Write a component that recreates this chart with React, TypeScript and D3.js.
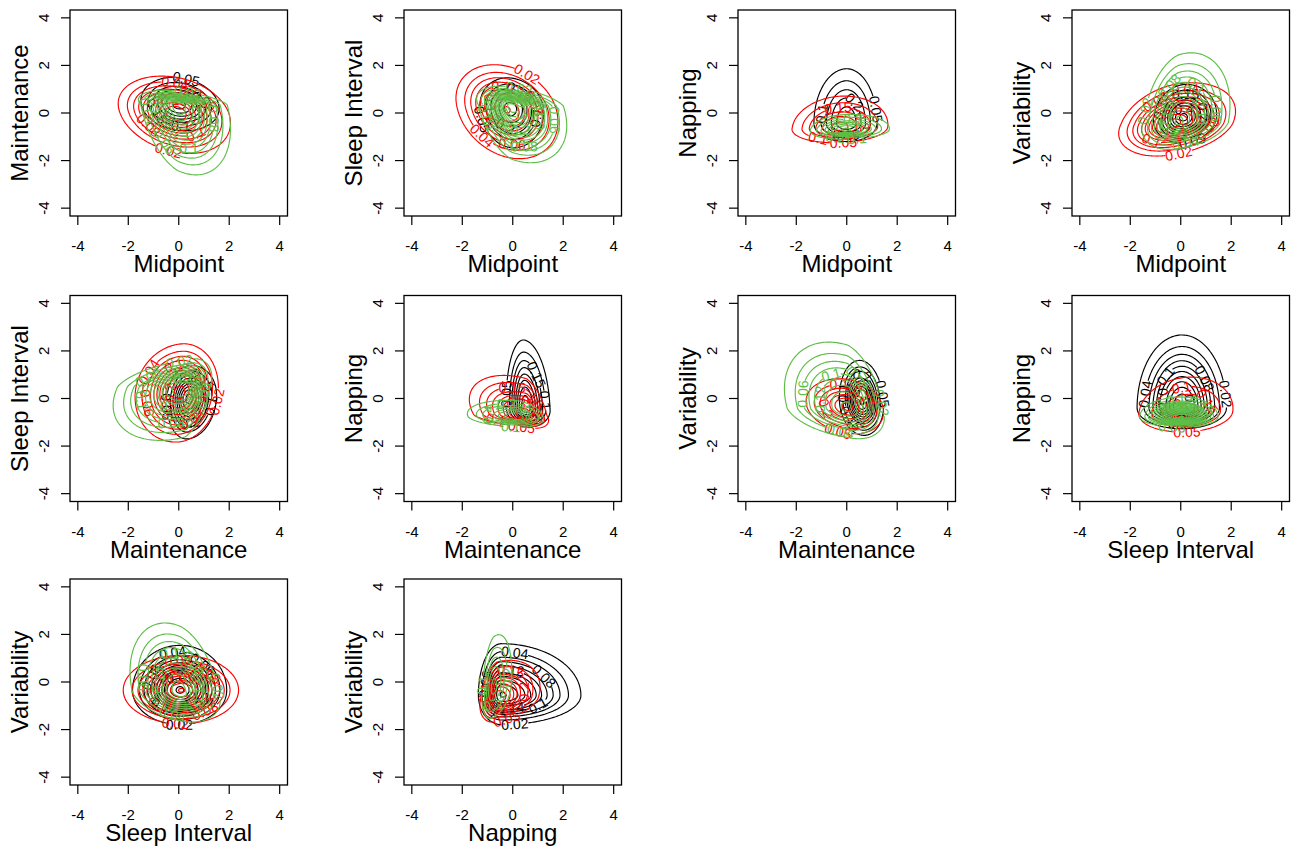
import React, { useMemo } from 'react';
import * as d3 from 'd3';

const variables = ['Midpoint', 'Maintenance', 'Sleep Interval', 'Napping', 'Variability'];
// x variable, y variable for each panel (row by row)
const panelPairs = [[0, 1], [0, 2], [0, 3], [0, 4], [1, 2], [1, 3], [1, 4], [2, 3], [2, 4], [3, 4]];
const tickValues = [-4, -2, 0, 2, 4];

// one row per panel: mode x, mode y, outer contour left, right, bottom, top, correlation, contour step
const blackFits = [
  [0.0, 0.35, -1.5, 1.6, -0.75, 1.5, -0.15, 0.05],
  [-0.1, 0.2, -1.3, 1.22, -1.46, 1.48, -0.1, 0.05],
  [0.0, -0.45, -1.3, 1.2, -1.2, 1.86, 0.0, 0.05],
  [0.1, -0.2, -1.08, 1.42, -1.25, 1.2, 0.1, 0.05],
  [0.4, 0.0, -0.48, 1.5, -1.7, 1.39, 0.1, 0.05],
  [0.5, -0.43, -0.26, 1.48, -1.2, 2.46, -0.1, 0.05],
  [0.6, -0.15, -0.29, 1.46, -1.55, 1.6, -0.1, 0.05],
  [0.05, -0.4, -1.73, 1.81, -1.27, 2.67, 0.0, 0.02],
  [0.05, -0.35, -1.83, 1.9, -1.79, 1.54, 0.0, 0.02],
  [-0.45, -0.56, -1.36, 2.7, -1.79, 1.61, 0.0, 0.02],
];
const redFits = [
  [-0.1, 0.0, -2.4, 2.05, -1.7, 1.55, -0.25, 0.02],
  [-0.24, 0.15, -2.25, 1.79, -1.92, 2.03, -0.25, 0.02],
  [-0.29, -0.62, -2.17, 1.63, -1.25, 0.71, 0.1, 0.05],
  [-0.3, -0.45, -2.46, 2.17, -1.81, 1.27, 0.3, 0.02],
  [0.05, 0.27, -1.73, 1.57, -1.83, 2.3, 0.1, 0.02],
  [0.55, -0.71, -1.72, 1.42, -1.25, 0.97, -0.4, 0.05],
  [0.05, -0.35, -1.61, 1.46, -1.48, 0.83, -0.2, 0.05],
  [0.24, -0.57, -1.66, 2.07, -1.41, 0.9, 0.1, 0.05],
  [0.12, -0.35, -2.2, 2.37, -1.75, 1.12, 0.0, 0.02],
  [-0.63, -0.7, -1.3, 1.08, -1.68, 0.91, 0.3, 0.05],
];
const greenFits = [
  [-0.05, 0.35, -1.6, 2.05, -2.6, 0.95, -0.35, 0.02],
  [-0.05, 0.3, -1.43, 2.14, -2.09, 1.13, -0.35, 0.02],
  [-0.05, -0.72, -1.45, 1.69, -1.1, -0.06, 0.1, 0.1],
  [-0.1, -0.4, -1.54, 1.95, -1.53, 2.53, 0.25, 0.02],
  [0.25, 0.5, -2.6, 1.31, -1.76, 1.67, 0.35, 0.02],
  [0.15, -0.78, -1.8, 1.22, -1.2, -0.08, -0.2, 0.1],
  [0.04, -0.43, -2.47, 1.49, -1.69, 2.37, -0.3, 0.02],
  [0.04, -0.78, -1.63, 1.48, -1.2, 0.06, 0.0, 0.05],
  [0.05, -0.42, -1.93, 1.64, -1.68, 2.48, -0.3, 0.02],
  [-0.77, -0.28, -1.23, -0.04, -1.54, 1.99, 0.3, 0.1],
];

const groups = [
  { fits: blackFits, color: '#000000' },
  { fits: redFits, color: '#FF0000' },
  { fits: greenFits, color: '#5DBE46' },
];

const WIDTH = 1291;
const HEIGHT = 847;
const colLeft = [70, 404, 738, 1072];
const rowTop = [10, 295.5, 579];
const BOX_W = 217.5;
const BOX_H = 206;
const X_LIM = 4.31;
const Y_LIM = 4.33;
const GRID = 160;
const FONT = '"Liberation Sans", Arial, Helvetica, sans-serif';
const LABEL_SIZE = 14;

// radius (in sd units) of the lowest contour so that it meets the outer box
function outerRadius(fit) {
  const [, , lo, hi, bo, to, rho, step] = fit;
  const K = 4 / (2 * Math.PI * (hi - lo) * (to - bo) * Math.sqrt(1 - rho * rho) * step);
  let q = 8;
  for (let k = 0; k < 80; k++) q = 2 * Math.log(Math.max(K * q, 1.01));
  return Math.sqrt(q);
}

function densityGrid(fit) {
  const [mx, my, lo, hi, bo, to, rho, step] = fit;
  const rad = outerRadius(fit);
  const c2 = 1 - rho * rho;
  const peak = (4 * rad * rad) / (2 * Math.PI * (hi - lo) * (to - bo) * Math.sqrt(c2));
  const sxL = (mx - lo) / rad;
  const sxR = (hi - mx) / rad;
  const syB = (my - bo) / rad;
  const syT = (to - my) / rad;
  const values = new Array(GRID * GRID);
  for (let j = 0; j < GRID; j++) {
    const y = Y_LIM - ((j + 0.5) * 2 * Y_LIM) / GRID;
    for (let i = 0; i < GRID; i++) {
      const x = -X_LIM + ((i + 0.5) * 2 * X_LIM) / GRID;
      const u = (x - mx) / (x < mx ? sxL : sxR);
      const v = (y - my) / (y < my ? syB : syT);
      const q = (u * u - 2 * rho * u * v + v * v) / c2;
      values[j * GRID + i] = peak * Math.exp(-q / 2);
    }
  }
  const levels = d3.range(1, Math.floor(peak / step + 1e-9) + 1).map((k) => +(k * step).toFixed(6));
  return { values, levels };
}

function textWidth(s) {
  let w = 0;
  for (const ch of s) w += ch === '.' ? 0.278 : 0.556;
  return w * LABEL_SIZE;
}

function angleDiff(a, b) {
  let d = b - a;
  while (d > Math.PI) d -= 2 * Math.PI;
  while (d < -Math.PI) d += 2 * Math.PI;
  return Math.abs(d);
}

function layoutRing(pts, label, box, placed) {
  if (pts.length > 1) {
    const a = pts[0];
    const b = pts[pts.length - 1];
    if (a[0] === b[0] && a[1] === b[1]) pts = pts.slice(0, -1);
  }
  const n = pts.length;
  const cum = [0];
  for (let k = 1; k <= n; k++) {
    const p = pts[k - 1];
    const q = pts[k % n];
    cum.push(cum[k - 1] + Math.hypot(q[0] - p[0], q[1] - p[1]));
  }
  const P = cum[n];
  const closed = 'M' + pts.map((p) => p[0].toFixed(2) + ',' + p[1].toFixed(2)).join('L') + 'Z';
  const w = textWidth(label);
  if (n < 6 || P < 2 * w) return { d: closed, label: null };

  const pointAt = (a) => {
    a = ((a % P) + P) % P;
    const k = Math.min(d3.bisectRight(cum, a) - 1, n - 1);
    const seg = cum[k + 1] - cum[k] || 1;
    const t = (a - cum[k]) / seg;
    const p = pts[k];
    const q = pts[(k + 1) % n];
    return [p[0] + (q[0] - p[0]) * t, p[1] + (q[1] - p[1]) * t];
  };

  const h = LABEL_SIZE * 0.5;
  const candidates = [];
  for (let k = 0; k < n; k++) {
    const c = cum[k];
    const s = [0, 1, 2, 3, 4].map((m) => pointAt(c - w / 2 + (w * m) / 4));
    const heads = [];
    for (let m = 0; m < 4; m++) heads.push(Math.atan2(s[m + 1][1] - s[m][1], s[m + 1][0] - s[m][0]));
    let turn = 0;
    for (let m = 0; m < 3; m++) turn += angleDiff(heads[m], heads[m + 1]);
    let ang = Math.atan2(s[4][1] - s[0][1], s[4][0] - s[0][0]);
    if (ang > Math.PI / 2) ang -= Math.PI;
    if (ang < -Math.PI / 2) ang += Math.PI;
    const mid = pointAt(c);
    const ca = Math.cos(ang);
    const sa = Math.sin(ang);
    const corners = [[-1, -1], [1, -1], [1, 1], [-1, 1]].map(([a, b]) => [
      mid[0] + (a * w) / 2 * ca - b * h * sa,
      mid[1] + (a * w) / 2 * sa + b * h * ca,
    ]);
    const inside = corners.every(
      (p) => p[0] > box.x0 && p[0] < box.x1 && p[1] > box.y0 && p[1] < box.y1
    );
    if (!inside) continue;
    const bb = {
      x0: d3.min(corners, (p) => p[0]),
      x1: d3.max(corners, (p) => p[0]),
      y0: d3.min(corners, (p) => p[1]),
      y1: d3.max(corners, (p) => p[1]),
    };
    candidates.push({ c, turn, ang, mid, bb });
  }
  candidates.sort((a, b) => a.turn - b.turn);
  const hit = (bb) => placed.some((o) => bb.x0 < o.x1 && bb.x1 > o.x0 && bb.y0 < o.y1 && bb.y1 > o.y0);
  const pick = candidates.find((cd) => !hit(cd.bb));
  if (!pick) return { d: closed, label: null };
  placed.push(pick.bb);

  const s = pick.c - w / 2;
  const e = pick.c + w / 2;
  const inner = [];
  for (let m = -1; m <= 2; m++) {
    for (let k = 0; k < n; k++) {
      const a = cum[k] + m * P;
      if (a > e && a < s + P) inner.push([a, pts[k]]);
    }
  }
  inner.sort((a, b) => a[0] - b[0]);
  const line = [pointAt(e), ...inner.map((v) => v[1]), pointAt(s + P)];
  const d = 'M' + line.map((p) => p[0].toFixed(2) + ',' + p[1].toFixed(2)).join('L');
  return {
    d,
    label: { x: pick.mid[0], y: pick.mid[1], angle: (pick.ang * 180) / Math.PI, text: label },
  };
}

function buildPanel(pair, p) {
  const row = Math.floor(p / 4);
  const col = p % 4;
  const left = colLeft[col];
  const top = rowTop[row];
  const x = d3.scaleLinear().domain([-X_LIM, X_LIM]).range([left, left + BOX_W]);
  const y = d3.scaleLinear().domain([-Y_LIM, Y_LIM]).range([top + BOX_H, top]);
  const gx = (c) => x(-X_LIM + (c * 2 * X_LIM) / GRID);
  const gy = (c) => y(Y_LIM - (c * 2 * Y_LIM) / GRID);
  const box = { x0: left, x1: left + BOX_W, y0: top, y1: top + BOX_H };

  const layers = groups.map((g) => {
    const { values, levels } = densityGrid(g.fits[p]);
    const contours = d3.contours().size([GRID, GRID]).thresholds(levels)(values);
    const placed = [];
    const paths = [];
    const labels = [];
    contours.forEach((ct) => {
      const text = String(+ct.value.toFixed(4));
      ct.coordinates.forEach((poly) => {
        poly.forEach((ring) => {
          const pts = ring.map(([cx, cy]) => [gx(cx), gy(cy)]);
          const res = layoutRing(pts, text, box, placed);
          paths.push(res.d);
          if (res.label) labels.push(res.label);
        });
      });
    });
    return { color: g.color, paths, labels };
  });

  return { p, pair, left, top, x, y, layers };
}

export default function App() {
  const panels = useMemo(() => panelPairs.map((pair, p) => buildPanel(pair, p)), []);

  return (
    <svg
      width={WIDTH}
      height={HEIGHT}
      style={{ position: 'absolute', left: 0, top: 0, background: '#ffffff' }}
      fontFamily={FONT}
    >
      <rect width={WIDTH} height={HEIGHT} fill="#ffffff" />
      <defs>
        {panels.map((pn) => (
          <clipPath id={'clip' + pn.p} key={pn.p}>
            <rect x={pn.left} y={pn.top} width={BOX_W} height={BOX_H} />
          </clipPath>
        ))}
      </defs>
      {panels.map((pn) => {
        const bottom = pn.top + BOX_H;
        const cx = pn.left + BOX_W / 2;
        const cy = pn.top + BOX_H / 2;
        return (
          <g key={pn.p}>
            <g clipPath={`url(#clip${pn.p})`}>
              {pn.layers.map((ly, li) => (
                <g key={li}>
                  <g fill="none" stroke={ly.color} strokeWidth={1.15} strokeLinejoin="round">
                    {ly.paths.map((d, i) => (
                      <path key={i} d={d} />
                    ))}
                  </g>
                  <g fill={ly.color} fontSize={LABEL_SIZE} textAnchor="middle" dominantBaseline="central">
                    {ly.labels.map((lb, i) => (
                      <text
                        key={i}
                        x={lb.x}
                        y={lb.y}
                        transform={`rotate(${lb.angle.toFixed(2)},${lb.x.toFixed(2)},${lb.y.toFixed(2)})`}
                      >
                        {lb.text}
                      </text>
                    ))}
                  </g>
                </g>
              ))}
            </g>
            <rect
              x={pn.left}
              y={pn.top}
              width={BOX_W}
              height={BOX_H}
              fill="none"
              stroke="#000"
              strokeWidth={1.3}
            />
            {tickValues.map((t) => (
              <g key={'x' + t}>
                <line x1={pn.x(t)} x2={pn.x(t)} y1={bottom} y2={bottom + 9} stroke="#000" strokeWidth={1.2} />
                <text x={pn.x(t)} y={bottom + 35} fontSize={15} textAnchor="middle" fill="#000">
                  {t}
                </text>
              </g>
            ))}
            {tickValues.map((t) => (
              <g key={'y' + t}>
                <line x1={pn.left - 9} x2={pn.left} y1={pn.y(t)} y2={pn.y(t)} stroke="#000" strokeWidth={1.2} />
                <text
                  transform={`translate(${pn.left - 21},${pn.y(t)}) rotate(-90)`}
                  fontSize={15}
                  textAnchor="middle"
                  fill="#000"
                >
                  {t}
                </text>
              </g>
            ))}
            <text x={cx} y={bottom + 56} fontSize={24} textAnchor="middle" fill="#000">
              {variables[pn.pair[0]]}
            </text>
            <text
              transform={`translate(${pn.left - 42.5},${cy}) rotate(-90)`}
              fontSize={24}
              textAnchor="middle"
              fill="#000"
            >
              {variables[pn.pair[1]]}
            </text>
          </g>
        );
      })}
    </svg>
  );
}
